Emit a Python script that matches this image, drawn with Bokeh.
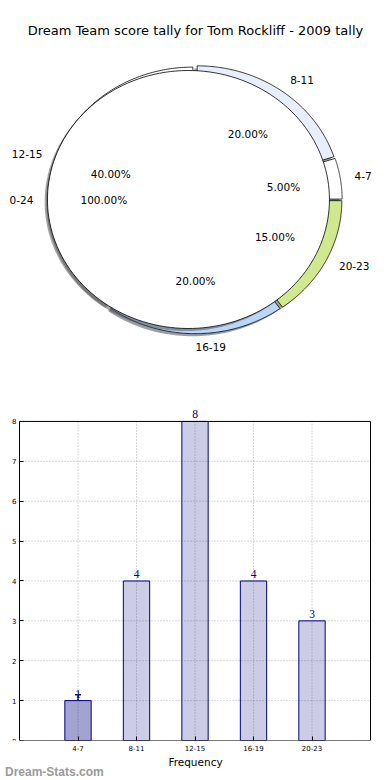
import numpy as np
from bokeh.plotting import figure
from bokeh.layouts import column
from bokeh.models import (ColumnDataSource, Label, LabelSet, FixedTicker, Whisker,
                          TeeHead, Range1d, Div)
from bokeh.embed import file_html
from bokeh.resources import INLINE

# ---------------- data ----------------
TITLE = "Dream Team score tally for Tom Rockliff - 2009 tally"
bar_cats = ["4-7", "8-11", "12-15", "16-19", "20-23"]
bar_counts = [1, 4, 8, 4, 3]
err_low = [1.0]              # small error bar drawn on the 4-7 bar
err_high = [1.15]
pie_labels = ["12-15", "16-19", "20-23", "4-7", "8-11"]
pie_counts = [8, 4, 3, 1, 4]
inner_labels = ["0-24"]
inner_counts = [20]
x_label = "Frequency"
watermark = "Dream-Stats.com"

FONT = "DejaVu Sans"

# common horizontal frame for both plots (bokeh aligns frames in a column)
W = 384
L = 8
FW = 374
RB = W - L - FW

# ---------------- pie ----------------
H1 = 395
UX, UY = 141.0, 129.0        # px per pie unit (horizontal / vertical)
CX, CY = 195.0, 199.0        # canvas position of pie centre

p1 = figure(frame_width=FW, frame_height=H1,
            x_range=Range1d((L - CX) / UX, (L + FW - CX) / UX),
            y_range=Range1d(-(H1 - CY) / UY, CY / UY),
            output_backend="svg", toolbar_location=None,
            x_axis_location=None, y_axis_location=None,
            min_border_left=L, min_border_right=RB,
            min_border_top=0, min_border_bottom=0)
p1.grid.visible = False
p1.outline_line_color = None
p1.background_fill_color = "white"
p1.border_fill_color = "white"

pie_colors = {"12-15": "#ffffff", "16-19": "#b8d6fa", "20-23": "#d0e88e",
              "4-7": "#ffffff", "8-11": "#e8eefc"}


def darker(hexcol, f=0.3):
    h = hexcol.lstrip("#")
    r, g, b = (int(h[i:i + 2], 16) for i in (0, 2, 4))
    return "#%02x%02x%02x" % (int(r * f), int(g * f), int(b * f))


def wedge_poly(cx, cy, r, t1, t2, full=False, n=160):
    t = np.radians(np.linspace(t1, t2, n))
    xs = cx + r * np.cos(t)
    ys = cy + r * np.sin(t)
    if not full:
        xs = np.concatenate([[cx], xs, [cx]])
        ys = np.concatenate([[cy], ys, [cy]])
    return list(xs), list(ys)


def pie_layer(labels, counts, start, explode):
    tot = float(sum(counts))
    out = []
    a = start
    for lab, c in zip(labels, counts):
        span = 360.0 * c / tot
        mid = np.radians(a + span / 2)
        ox, oy = explode * np.cos(mid), explode * np.sin(mid)
        out.append(dict(label=lab, frac=c / tot, t1=a, t2=a + span,
                        ox=ox, oy=oy, mid=mid, full=(span >= 359.999)))
        a += span
    return out


R_O, EX_O = 1.02, 0.02
R_I, EX_I = 1.0, 0.05
SH = -0.02

outer = pie_layer(pie_labels, pie_counts, 90.0, EX_O)
inner = pie_layer(inner_labels, inner_counts, 0.0, EX_I)

for layer, rad, cols in ((outer, R_O, pie_colors), (inner, R_I, {"0-24": "#ffffff"})):
    sx, sy, sc = [], [], []
    for w in layer:
        xs, ys = wedge_poly(w["ox"] + SH, w["oy"] + SH, rad, w["t1"], w["t2"], w["full"])
        sx.append(xs); sy.append(ys); sc.append(darker(cols[w["label"]]))
    p1.patches(sx, sy, fill_color=sc, fill_alpha=0.5, line_color=None)
    wx, wy, wc = [], [], []
    for w in layer:
        xs, ys = wedge_poly(w["ox"], w["oy"], rad, w["t1"], w["t2"], w["full"])
        wx.append(xs); wy.append(ys); wc.append(cols[w["label"]])
    p1.patches(wx, wy, fill_color=wc, line_color="black", line_width=0.8)

lx, ly, lt, la = [], [], [], []
px, py, pt = [], [], []
for layer, rad in ((outer, R_O), (inner, R_I)):
    for w in layer:
        c, s = np.cos(w["mid"]), np.sin(w["mid"])
        lx.append(w["ox"] + 1.1 * rad * c)
        ly.append(w["oy"] + 1.1 * rad * s)
        lt.append(w["label"])
        la.append("left" if round(c, 6) >= 0 else "right")
        px.append(w["ox"] + 0.6 * rad * c)
        py.append(w["oy"] + 0.6 * rad * s)
        pt.append("%.2f%%" % (100 * w["frac"]))

lab_src = ColumnDataSource(dict(x=lx, y=ly, text=lt, align=la))
p1.text(x="x", y="y", text="text", text_align="align", source=lab_src,
        text_baseline="middle", text_font_size="10.5px", text_color="black",
        text_font={"value": FONT})
pct_src = ColumnDataSource(dict(x=px, y=py, text=pt))
p1.text(x="x", y="y", text="text", source=pct_src, text_align="center",
        text_baseline="middle", text_font_size="10.5px", text_color="black",
        text_font={"value": FONT})

p1.add_layout(Label(x=0.0, y=(CY - 30) / UY, text=TITLE, text_align="center",
                    text_baseline="middle", text_font_size="13px",
                    text_font=FONT, text_color="black"))

# ---------------- bars ----------------
xs = list(range(1, len(bar_cats) + 1))
X0, X1 = 0, len(bar_cats) + 1
Y_MAX = max(bar_counts)
BX0 = 19                      # canvas x of the plot box's left side
PXU = 351.0 / (X1 - X0)       # px per x unit
Y_TOP = Y_MAX + 0.4           # head-room so the value labels are not clipped
p2 = figure(frame_width=FW, frame_height=335,
            x_range=Range1d(X0 - (BX0 - L) / PXU, X0 + (L + FW - BX0) / PXU),
            y_range=Range1d(0, Y_TOP),
            output_backend="svg", toolbar_location=None,
            min_border_left=L, min_border_right=RB,
            min_border_top=10, min_border_bottom=0)
p2.background_fill_color = "white"
p2.border_fill_color = "white"
p2.outline_line_color = None
p2.xgrid.visible = False
p2.ygrid.visible = False

yticks = list(range(0, Y_MAX + 1))
ytick = FixedTicker(ticks=yticks)
xtick = FixedTicker(ticks=xs)

# dotted grid inside the plot box
GRID = dict(line_color="#b0b0b0", line_dash="1 2", line_width=1)
p2.segment(x0=xs, y0=[0] * len(xs), x1=xs, y1=[Y_MAX] * len(xs), **GRID)
p2.segment(x0=[X0] * len(yticks), y0=yticks, x1=[X1] * len(yticks), y1=yticks, **GRID)

alphas = [0.36] + [0.2] * (len(bar_cats) - 1)
bsrc = ColumnDataSource(dict(x=xs, top=bar_counts, alpha=alphas,
                             lab=[str(v) for v in bar_counts]))
p2.vbar(x="x", top="top", width=0.45, source=bsrc, fill_color="navy",
        fill_alpha="alpha", line_color="navy", line_width=1)

esrc = ColumnDataSource(dict(x=xs[:1], lo=err_low, hi=err_high))
p2.add_layout(Whisker(base="x", lower="lo", upper="hi", source=esrc,
                      line_color="navy", line_width=1.5,
                      upper_head=TeeHead(size=6, line_color="navy", line_width=1.5),
                      lower_head=None))

p2.add_layout(LabelSet(x="x", y="top", text="lab", source=bsrc, y_offset=3,
                       text_align="center", text_baseline="bottom",
                       text_color="navy", text_font_size="11.5px", text_font=FONT))

# plot box (spines) from the axis limits
p2.line(x=[X0, X1, X1, X0, X0], y=[0, 0, Y_MAX, Y_MAX, 0],
        line_color="black", line_width=1)

p2.yaxis.ticker = ytick
p2.yaxis.fixed_location = X0
p2.xaxis.ticker = xtick
p2.xaxis.major_label_overrides = {x: c for x, c in zip(xs, bar_cats)}
p2.xaxis.axis_label = x_label
for ax in (p2.xaxis, p2.yaxis):
    ax.major_label_text_font_size = "7px"
    ax.major_label_text_font = FONT
    ax.major_label_text_color = "black"
    ax.major_tick_in = 4
    ax.major_tick_out = 0
    ax.major_tick_line_color = "black"
    ax.minor_tick_line_color = None
    ax.axis_line_color = None
    ax.major_label_standoff = 3
p2.xaxis.major_label_standoff = 4
p2.xaxis.axis_label_text_font_size = "10.5px"
p2.xaxis.axis_label_text_font_style = "normal"
p2.xaxis.axis_label_text_font = FONT
p2.xaxis.axis_label_text_color = "black"
p2.xaxis.axis_label_standoff = 2

wm = Div(text=watermark, width=W, height=12,
         styles={"font-family": "Liberation Sans", "font-weight": "bold",
                 "font-size": "12px", "color": "#9a9a9a", "line-height": "12px",
                 "margin-top": "-4px", "padding": "0"})

layout = column(p1, p2, wm, spacing=0)
open("out.html", "w").write(file_html(layout, INLINE))
